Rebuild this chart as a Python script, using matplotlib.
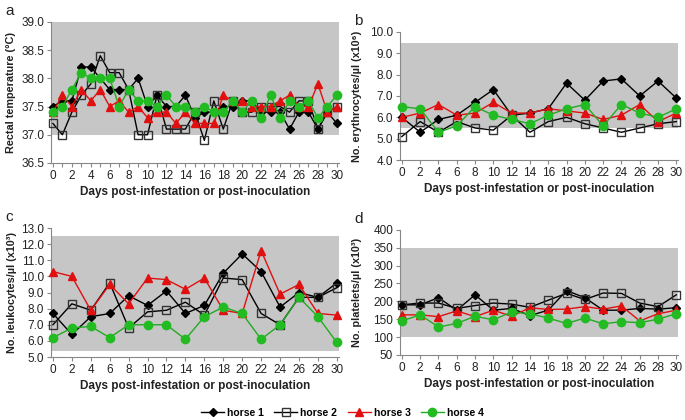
import matplotlib.pyplot as plt

plt.rcParams['font.family'] = ['Liberation Sans', 'DejaVu Sans']

days_a = list(range(31))
days = list(range(0, 31, 2))

# rectal temperature (daily)
temp_h1 = [37.5, 37.6, 37.6, 38.2, 38.2, 38.0, 37.8, 37.8, 37.8, 38.0, 37.5, 37.7, 37.5, 37.5, 37.7, 37.3,
           37.4, 37.4, 37.5, 37.5, 37.6, 37.6, 37.4, 37.4, 37.4, 37.1, 37.4, 37.4, 37.1, 37.4, 37.2]
temp_h2 = [37.2, 37.0, 37.4, 37.7, 37.9, 38.4, 38.1, 38.1, 37.8, 37.0, 37.0, 37.7, 37.1, 37.1, 37.1, 37.4,
           36.9, 37.6, 37.1, 37.6, 37.4, 37.4, 37.5, 37.5, 37.5, 37.4, 37.6, 37.6, 37.1, 37.4, 37.5]
temp_h3 = [37.4, 37.7, 37.5, 37.8, 37.6, 37.8, 37.5, 37.6, 37.4, 37.5, 37.3, 37.4, 37.4, 37.2, 37.4, 37.2,
           37.2, 37.2, 37.7, 37.6, 37.6, 37.5, 37.5, 37.5, 37.6, 37.7, 37.5, 37.5, 37.9, 37.4, 37.5]
temp_h4 = [37.4, 37.5, 37.8, 38.1, 38.0, 38.0, 38.0, 37.5, 37.8, 37.6, 37.6, 37.5, 37.7, 37.5, 37.5, 37.4,
           37.5, 37.4, 37.4, 37.6, 37.4, 37.6, 37.3, 37.7, 37.3, 37.6, 37.5, 37.6, 37.3, 37.5, 37.7]

# erythrocytes (x10^6/ul)
ery_h1 = [6.0, 5.3, 5.9, 6.1, 6.7, 7.3, 6.1, 6.2, 6.4, 7.6, 6.8, 7.7, 7.8, 7.0, 7.7, 6.9]
ery_h2 = [5.1, 5.8, 5.3, 5.8, 5.5, 5.4, 6.1, 5.3, 5.8, 6.0, 5.7, 5.5, 5.3, 5.5, 5.7, 5.8]
ery_h3 = [6.0, 6.2, 6.6, 6.1, 6.2, 6.7, 6.2, 6.2, 6.4, 6.3, 6.2, 5.9, 6.1, 6.6, 5.8, 6.2]
ery_h4 = [6.5, 6.4, 5.3, 5.6, 6.5, 6.1, 5.9, 5.7, 6.1, 6.4, 6.6, 5.6, 6.6, 6.2, 6.0, 6.4]

# leukocytes (x10^3/ul)
leu_h1 = [7.7, 6.4, 7.5, 7.7, 8.8, 8.2, 9.1, 7.7, 8.2, 10.2, 11.4, 10.3, 8.1, 9.0, 8.7, 9.6]
leu_h2 = [7.0, 8.3, 7.9, 9.6, 6.8, 7.8, 7.9, 8.4, 7.6, 9.9, 9.8, 7.7, 7.0, 8.7, 8.7, 9.3]
leu_h3 = [10.3, 10.0, 7.9, 9.5, 8.3, 9.9, 9.8, 9.2, 9.9, 7.9, 7.7, 11.6, 8.9, 9.5, 7.7, 7.6]
leu_h4 = [6.2, 6.8, 6.9, 6.2, 7.0, 7.0, 7.0, 6.1, 7.5, 8.1, 7.7, 6.1, 7.0, 8.7, 7.5, 5.9]

# platelets (x10^3/ul)
plt_h1 = [190, 190, 210, 175, 218, 175, 180, 160, 175, 230, 210, 175, 175, 180, 178, 182]
plt_h2 = [190, 195, 195, 180, 188, 195, 192, 183, 203, 222, 205, 223, 222, 195, 185, 218]
plt_h3 = [162, 162, 157, 173, 157, 175, 158, 182, 177, 178, 185, 178, 187, 145, 165, 175]
plt_h4 = [145, 162, 128, 138, 158, 148, 170, 165, 153, 138, 153, 137, 143, 140, 150, 165]

labels = ["horse 1", "horse 2", "horse 3", "horse 4"]
styles = [
    dict(color='black', marker='D', markersize=4, markerfacecolor='black'),
    dict(color='black', marker='s', markersize=5.5, markerfacecolor='none', markeredgecolor='#333333'),
    dict(color='#e01010', marker='^', markersize=6, markerfacecolor='#e01010'),
    dict(color='#22aa22', marker='o', markersize=6, markerfacecolor='#22bb22', markeredgecolor='#22bb22'),
]

xlab = "Days post-infestation or post-inoculation"
grey = '#888888'

fig = plt.figure(figsize=(6.85, 4.2), dpi=100)

# rect, letter, x, series, ylim, tick step, normal range, ylabel, tick fmt, ylabel x (px)
panels = [
    ([0.0745, 0.612, 0.420, 0.336], 'a', days_a, [temp_h1, temp_h2, temp_h3, temp_h4],
     (36.5, 39.0), 0.5, (37.0, 39.0), "Rectal temperature (°C)", "{:.1f}", 16),
    ([0.584, 0.619, 0.406, 0.305], 'b', days, [ery_h1, ery_h2, ery_h3, ery_h4],
     (4.0, 10.0), 1.0, (5.5, 9.5), "No. erythrocytes/µl (x10⁶)", "{:.1f}", 362),
    ([0.0745, 0.150, 0.420, 0.307], 'c', days, [leu_h1, leu_h2, leu_h3, leu_h4],
     (5.0, 13.0), 1.0, (5.4, 12.5), "No. leukocytes/µl (x10³)", "{:.1f}", 17),
    ([0.584, 0.155, 0.406, 0.298], 'd', days, [plt_h1, plt_h2, plt_h3, plt_h4],
     (50, 400), 50, (100, 350), "No. platelets/µl (x10³)", "{:.0f}", 362),
]

handles = []
for rect, letter, x, series, ylim, step, band, ylabel, fmt, lab_px in panels:
    ax = fig.add_axes(rect)
    ax.set_xlim(-0.2, 30.2)
    ax.set_ylim(*ylim)
    ax.axhspan(band[0], band[1], color='#c6c6c6', zorder=0, lw=0)
    hs = []
    for y, st in zip(series, styles):
        h, = ax.plot(x, y, lw=1.0, clip_on=False, zorder=3, **st)
        hs.append(h)
    handles = hs

    ax.set_xticks(range(0, 31, 2))
    if letter == 'a':
        ax.set_xticks(range(31), minor=True)
    yt = []
    v = ylim[0]
    while v <= ylim[1] + 1e-9:
        yt.append(v)
        v += step
    ax.set_yticks(yt)
    ax.set_yticklabels([fmt.format(t) for t in yt])

    for s in ['top', 'right']:
        ax.spines[s].set_visible(False)
    for s in ['left', 'bottom']:
        ax.spines[s].set_color(grey)
        ax.spines[s].set_linewidth(0.8)
    ax.tick_params(axis='both', colors=grey, labelcolor='#222222', labelsize=8.5,
                   direction='out', length=3, width=0.8)
    ax.tick_params(axis='x', which='minor', colors=grey, length=3, width=0.8)
    ax.tick_params(axis='x', pad=2)
    ax.tick_params(axis='y', pad=2)

    ax.set_xlabel(xlab, fontsize=8.5, fontweight='bold', color='#222222', labelpad=3)
    ax.set_ylabel(ylabel, fontsize=7.8, fontweight='bold', color='#222222')
    lx = (lab_px - rect[0] * 685) / (rect[2] * 685)
    ax.yaxis.set_label_coords(lx, 0.5)

    fig.text(rect[0] - 0.067, rect[1] + rect[3] + 0.01, letter, fontsize=11, color='#222222',
             ha='left', va='bottom')

fig.legend(handles, labels, loc='center', bbox_to_anchor=(0.5, 0.017), ncol=4, frameon=False,
           prop=dict(size=7.5, weight='bold'), handlelength=2.2, columnspacing=1.0,
           handletextpad=0.3, borderaxespad=0)

fig.savefig('out.png', dpi=100)
